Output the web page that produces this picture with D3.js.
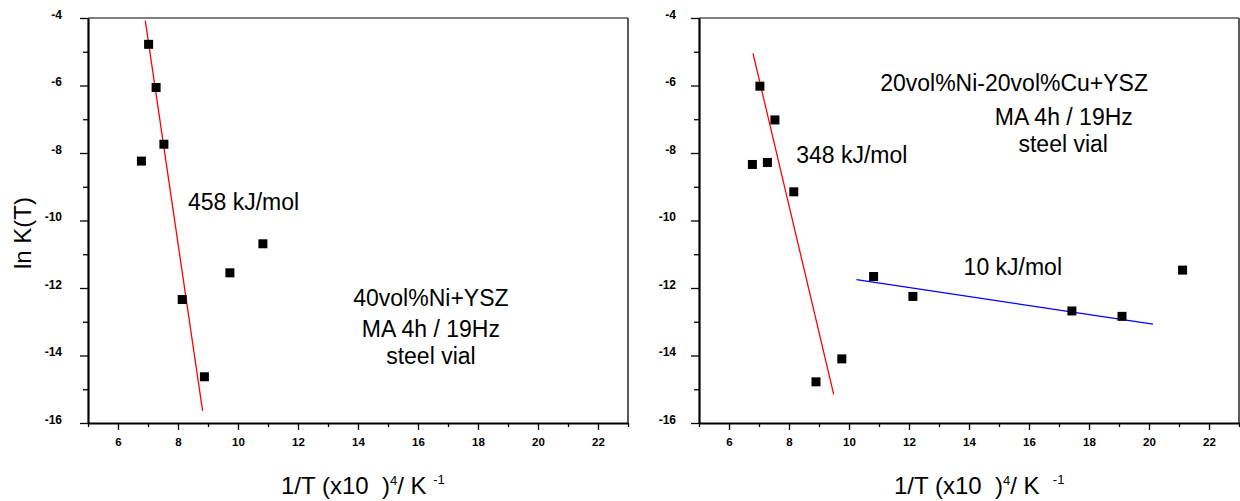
<!DOCTYPE html>
<html>
<head>
<meta charset="utf-8">
<script src="https://cdn.jsdelivr.net/npm/d3@7"></script>
<style>
  html, body { margin: 0; padding: 0; background: #fff; }
  svg { display: block; }
  text { font-family: "Liberation Sans", Arial, Helvetica, sans-serif; }
  .tick text { font-family: "Liberation Sans", Arial, sans-serif !important; font-weight: 700 !important; fill: #000; }
</style>
</head>
<body>
<svg id="chart" width="1240" height="501"></svg>
<script>
// ---------- data ----------
const xDomain = [5, 23];
const yDomain = [-16, -4];
const xMajorTicks = [6, 8, 10, 12, 14, 16, 18, 20, 22];
const xMinorTicks = [5, 7, 9, 11, 13, 15, 17, 19, 21, 23];
const yMajorTicks = [-4, -6, -8, -10, -12, -14, -16];
const yMinorTicks = [-5, -7, -9, -11, -13, -15];

// left panel: 40vol%Ni+YSZ
const leftX = [7.02, 7.27, 7.53, 6.78, 10.83, 9.73, 8.14, 8.88];
const leftY = [-4.78, -6.06, -7.74, -8.24, -10.69, -11.55, -12.34, -14.63];
const leftRedFitX = [6.91, 8.82];
const leftRedFitY = [-4.08, -15.64];
const leftEnergyLabel = "458 kJ/mol";
const leftSampleLines = ["40vol%Ni+YSZ", "MA 4h / 19Hz", "steel vial"];

// right panel: 20vol%Ni-20vol%Cu+YSZ
const rightX = [7.03, 7.53, 6.78, 7.28, 8.16, 8.90, 9.76, 10.82, 12.13, 17.43, 19.10, 21.12];
const rightY = [-6.02, -7.02, -8.34, -8.28, -9.15, -14.78, -14.10, -11.66, -12.25, -12.68, -12.84, -11.47];
const rightRedFitX = [6.80, 9.49];
const rightRedFitY = [-5.05, -15.15];
const rightBlueFitX = [10.25, 20.13];
const rightBlueFitY = [-11.75, -13.07];
const rightEnergyLabels = ["348 kJ/mol", "10 kJ/mol"];
const rightSampleLines = ["20vol%Ni-20vol%Cu+YSZ", "MA 4h / 19Hz", "steel vial"];

const yTitle = "ln K(T)";

// ---------- drawing ----------
const svg = d3.select("#chart");
const plainFmt = d => String(d);   // hyphen minus like the original

function drawPanel(cfg) {
  const g = svg.append("g").attr("transform", `translate(${cfg.left},${cfg.top})`);
  const W = cfg.width, H = cfg.height;
  const x = d3.scaleLinear().domain(xDomain).range([0, W]);
  const y = d3.scaleLinear().domain(yDomain).range([H, 0]);

  // frame: top and right
  g.append("line").attr("x1", 0).attr("x2", W).attr("y1", 0).attr("y2", 0)
    .attr("stroke", "#000").attr("stroke-width", 1.2);
  g.append("line").attr("x1", W).attr("x2", W).attr("y1", 0).attr("y2", H)
    .attr("stroke", "#333").attr("stroke-width", 1.6);

  // bottom axis
  const xMinor = g.append("g").attr("transform", `translate(0,${H})`)
    .call(d3.axisBottom(x).tickValues(xMinorTicks).tickSize(4).tickFormat(""));
  xMinor.select(".domain").remove();
  const xAx = g.append("g").attr("transform", `translate(0,${H})`)
    .call(d3.axisBottom(x).tickValues(xMajorTicks).tickFormat(plainFmt)
      .tickSizeInner(7).tickSizeOuter(0).tickPadding(8));
  xAx.select(".domain").attr("stroke-width", 2.2);
  xAx.selectAll(".tick line").attr("stroke-width", 1.3);
  xMinor.selectAll(".tick line").attr("stroke-width", 1.3);
  xAx.selectAll("text").style("font-size", "11.5px");

  // left axis
  const yMinor = g.append("g")
    .call(d3.axisLeft(y).tickValues(yMinorTicks).tickSize(5).tickFormat(""));
  yMinor.select(".domain").remove();
  yMinor.selectAll(".tick line").attr("stroke-width", 1.3);
  const yAx = g.append("g")
    .call(d3.axisLeft(y).tickValues(yMajorTicks).tickFormat(plainFmt)
      .tickSizeInner(8).tickSizeOuter(0).tickPadding(cfg.yPad));
  yAx.select(".domain").attr("stroke-width", 2.2);
  yAx.selectAll(".tick line").attr("stroke-width", 1.3);
  yAx.selectAll("text").attr("dy", "0").style("font-size", "12px");

  // fit lines
  cfg.fits.forEach(f => {
    const pts = f.xs.map((v, i) => [v, f.ys[i]]);
    g.append("path").datum(pts)
      .attr("d", d3.line().x(d => x(d[0])).y(d => y(d[1])))
      .attr("fill", "none").attr("stroke", f.color).attr("stroke-width", 1.3);
  });

  // points
  const s = 9;
  const pts = cfg.xs.map((v, i) => [v, cfg.ys[i]]);
  g.selectAll("rect.pt").data(pts).enter().append("rect")
    .attr("class", "pt")
    .attr("x", d => x(d[0]) - s / 2).attr("y", d => y(d[1]) - s / 2)
    .attr("width", s).attr("height", s).attr("fill", "#000");

  // annotations (positions in data coordinates)
  cfg.labels.forEach(l => {
    g.append("text").attr("x", x(l.x)).attr("y", y(l.y))
      .attr("font-size", 23).attr("fill", "#000").attr("text-anchor", l.anchor || "start")
      .text(l.text);
  });

  // x title
  const xt = svg.append("text").attr("x", cfg.xTitleX).attr("y", 494)
    .attr("font-size", 24).attr("fill", "#000").style("white-space", "pre");
  xt.append("tspan").text("1/T (x10  )");
  xt.append("tspan").attr("font-size", 13).attr("dy", -9).text("4");
  xt.append("tspan").attr("dy", 9).text(cfg.kText);
  xt.append("tspan").attr("font-size", 13).attr("dy", -10).text("-1");
  return { x, y, g };
}

drawPanel({
  left: 88, top: 18, width: 540, height: 405, yPad: 18,
  xs: leftX, ys: leftY,
  fits: [{ xs: leftRedFitX, ys: leftRedFitY, color: "#ff0000" }],
  labels: [
    { text: leftEnergyLabel, x: 8.33, y: -9.69 },
    { text: leftSampleLines[0], x: 16.43, y: -12.53, anchor: "middle" },
    { text: leftSampleLines[1], x: 16.43, y: -13.44, anchor: "middle" },
    { text: leftSampleLines[2], x: 16.43, y: -14.26, anchor: "middle" }
  ],
  xTitleX: 281, kText: "/ K "
});

drawPanel({
  left: 699, top: 18, width: 540, height: 405, yPad: 15,
  xs: rightX, ys: rightY,
  fits: [
    { xs: rightRedFitX, ys: rightRedFitY, color: "#ff0000" },
    { xs: rightBlueFitX, ys: rightBlueFitY, color: "#0000ff" }
  ],
  labels: [
    { text: rightEnergyLabels[0], x: 8.24, y: -8.31 },
    { text: rightEnergyLabels[1], x: 13.82, y: -11.61 },
    { text: rightSampleLines[0], x: 11.04, y: -6.17 },
    { text: rightSampleLines[1], x: 17.16, y: -7.17, anchor: "middle" },
    { text: rightSampleLines[2], x: 17.14, y: -7.96, anchor: "middle" }
  ],
  xTitleX: 894, kText: "/ K  "
});

// y title (left panel only)
svg.append("text").attr("transform", "translate(31,233) rotate(-90)")
  .attr("text-anchor", "middle").attr("font-size", 24).attr("fill", "#000")
  .text(yTitle);
</script>
</body>
</html>
